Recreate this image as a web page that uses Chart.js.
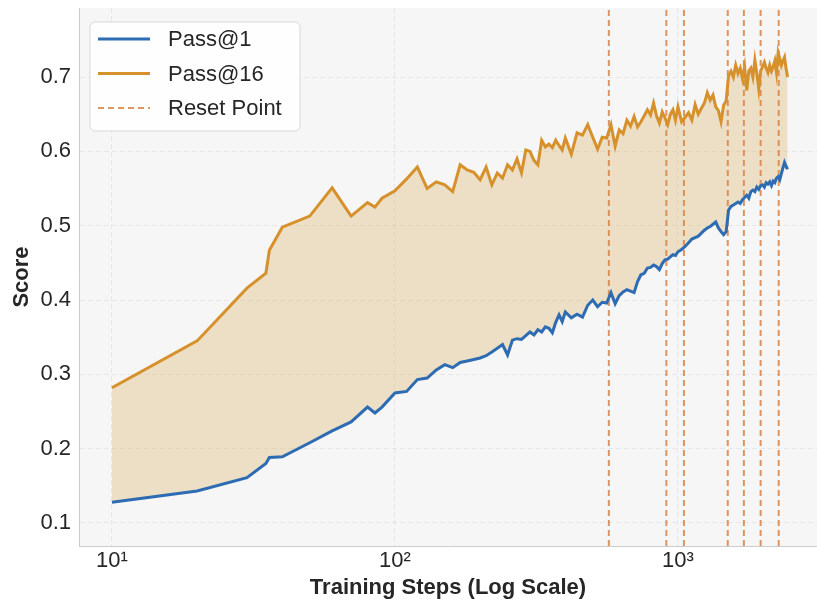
<!DOCTYPE html>
<html>
<head>
<meta charset="utf-8">
<script src="https://cdn.jsdelivr.net/npm/chart.js@4.4.1/dist/chart.umd.min.js"></script>
<style>
  html, body { margin: 0; padding: 0; background: #ffffff; overflow: hidden; }
  #wrap { width: 817px; height: 603px; }
</style>
</head>
<body>
<div id="wrap"><canvas id="scoreChart" width="817" height="603"></canvas></div>
<script>
// ---- data ----
const steps = [10, 20, 30, 35, 36, 40, 50, 60, 70, 80, 85, 90, 100, 110, 120, 130, 140, 150, 160, 170, 180, 190, 200,
  210, 220, 230, 240, 250, 260, 270, 280, 290, 300, 310, 320, 330, 340, 350, 360, 370, 380, 390, 400,
  420, 440, 460, 480, 500, 520, 540, 560, 580, 600, 620, 640, 660, 680, 700, 720, 740, 760, 780, 800,
  820, 840, 860, 880, 900, 920, 940, 960, 980, 1000,
  1030, 1060, 1090, 1120, 1150, 1180, 1210, 1240, 1270, 1300, 1330, 1360, 1390, 1420, 1450, 1480,
  1510, 1540, 1570, 1600, 1630, 1660, 1690, 1720, 1750, 1780, 1810, 1840, 1870, 1900, 1930, 1960,
  1990, 2020, 2050, 2080, 2110, 2140, 2170, 2200, 2230, 2260, 2290, 2320, 2350, 2380, 2410, 2440];

const pass16 = [0.282, 0.345, 0.416, 0.436, 0.467, 0.498, 0.513, 0.551, 0.513, 0.531, 0.525, 0.537, 0.547, 0.563, 0.579, 0.550, 0.559, 0.555, 0.546, 0.582, 0.575, 0.572, 0.562,
  0.579, 0.555, 0.571, 0.564, 0.582, 0.575, 0.590, 0.571, 0.602, 0.600, 0.588, 0.582, 0.615, 0.606, 0.610, 0.605, 0.615, 0.608, 0.602, 0.618,
  0.596, 0.625, 0.622, 0.636, 0.619, 0.603, 0.619, 0.618, 0.636, 0.607, 0.629, 0.624, 0.642, 0.634, 0.647, 0.633, 0.640, 0.648, 0.656, 0.649,
  0.665, 0.648, 0.638, 0.653, 0.645, 0.636, 0.650, 0.656, 0.642, 0.660,
  0.640, 0.646, 0.652, 0.642, 0.663, 0.650, 0.658, 0.665, 0.679, 0.669, 0.676, 0.660, 0.655, 0.640, 0.662, 0.668,
  0.702, 0.708, 0.700, 0.716, 0.705, 0.712, 0.698, 0.714, 0.682, 0.708, 0.712, 0.700, 0.723, 0.705, 0.684, 0.708,
  0.714, 0.720, 0.712, 0.706, 0.716, 0.708, 0.714, 0.722, 0.706, 0.733, 0.725, 0.716, 0.722, 0.727, 0.712, 0.700];

const pass1 = [0.128, 0.143, 0.161, 0.180, 0.188, 0.189, 0.208, 0.224, 0.236, 0.256, 0.248, 0.256, 0.275, 0.277, 0.293, 0.295, 0.306, 0.313, 0.309, 0.316, 0.318, 0.320, 0.322,
  0.325, 0.330, 0.335, 0.340, 0.326, 0.346, 0.348, 0.347, 0.352, 0.357, 0.353, 0.360, 0.357, 0.364, 0.362, 0.356, 0.370, 0.380, 0.371, 0.384,
  0.376, 0.381, 0.377, 0.393, 0.400, 0.391, 0.397, 0.396, 0.410, 0.395, 0.406, 0.411, 0.414, 0.412, 0.410, 0.425, 0.434, 0.436, 0.443, 0.444,
  0.447, 0.445, 0.441, 0.449, 0.454, 0.455, 0.458, 0.461, 0.460, 0.465,
  0.468, 0.472, 0.477, 0.482, 0.484, 0.486, 0.490, 0.494, 0.497, 0.499, 0.502, 0.505, 0.497, 0.492, 0.488, 0.492,
  0.521, 0.526, 0.528, 0.530, 0.532, 0.530, 0.535, 0.538, 0.541, 0.537, 0.546, 0.548, 0.546, 0.552, 0.549, 0.554,
  0.555, 0.552, 0.558, 0.556, 0.559, 0.554, 0.560, 0.558, 0.564, 0.566, 0.562, 0.570, 0.578, 0.585, 0.580, 0.576];

const resetSteps = [570, 910, 1050, 1500, 1710, 1960, 2270];

const xTicks = [10, 100, 1000];
const yTicks = [0.1, 0.2, 0.3, 0.4, 0.5, 0.6, 0.7];

// axis range (matplotlib-style margins)
const xMin = 7.65, xMax = 3100;
const yMin = 0.069, yMax = 0.793;

// ---- styles ----
const BLUE = '#2d6cb3';
const ORANGE = '#d6912c';
const RESET = 'rgba(214, 125, 60, 0.8)';
const FONT = "'Liberation Sans', Arial, sans-serif";
const TEXT = '#262626';

const sup = { 1: '\u00b9', 2: '\u00b2', 3: '\u00b3' };

function pairs(ys) {
  return steps.map((s, i) => ({ x: s, y: ys[i] }));
}

const datasets = [
  {
    label: 'Pass@1',
    data: pairs(pass1),
    borderColor: BLUE,
    borderWidth: 3,
    pointRadius: 0,
    fill: false,
    inLegend: true
  },
  {
    label: 'Pass@16',
    data: pairs(pass16),
    borderColor: ORANGE,
    borderWidth: 3,
    pointRadius: 0,
    fill: '-1',
    backgroundColor: 'rgba(222, 184, 110, 0.36)',
    inLegend: true
  }
];

resetSteps.forEach((s, i) => {
  datasets.push({
    label: 'Reset Point',
    data: [{ x: s, y: yMin }, { x: s, y: yMax }],
    borderColor: RESET,
    borderWidth: 2,
    borderDash: [6, 4],
    pointRadius: 0,
    fill: false,
    inLegend: i === 0
  });
});

// plot background
const plotBg = {
  id: 'plotBg',
  beforeDraw(chart) {
    const { ctx, chartArea: a } = chart;
    ctx.save();
    ctx.fillStyle = '#f6f6f6';
    ctx.fillRect(a.left, a.top, a.right - a.left, a.bottom - a.top);
    ctx.restore();
  }
};

// legend drawn inside the plot, top-left
const insideLegend = {
  id: 'insideLegend',
  afterDraw(chart) {
    const ctx = chart.ctx;
    const items = chart.data.datasets.filter(d => d.inLegend);
    const bx = 90, by = 22, bw = 210, bh = 109, r = 5;
    ctx.save();
    ctx.beginPath();
    ctx.roundRect(bx, by, bw, bh, r);
    ctx.fillStyle = 'rgba(255,255,255,0.85)';
    ctx.fill();
    ctx.strokeStyle = '#d9d9d9';
    ctx.lineWidth = 1;
    ctx.stroke();

    ctx.font = '22px ' + FONT;
    ctx.textBaseline = 'middle';
    ctx.fillStyle = TEXT;
    items.forEach((d, i) => {
      const y = 39 + i * 34.5;
      ctx.beginPath();
      ctx.setLineDash(d.borderDash || []);
      ctx.strokeStyle = d.borderColor;
      ctx.lineWidth = d.borderWidth;
      ctx.moveTo(98, y);
      ctx.lineTo(150, y);
      ctx.stroke();
      ctx.setLineDash([]);
      ctx.fillText(d.label, 168, y + 1);
    });
    ctx.restore();
  }
};

new Chart(document.getElementById('scoreChart').getContext('2d'), {
  type: 'line',
  data: { datasets: datasets },
  plugins: [plotBg, insideLegend],
  options: {
    responsive: false,
    animation: false,
    layout: { padding: { top: 8, right: 0, left: 0, bottom: 0 } },
    plugins: {
      legend: { display: false },
      tooltip: { enabled: false },
      filler: { drawTime: 'beforeDatasetsDraw' }
    },
    elements: { line: { tension: 0 } },
    scales: {
      x: {
        type: 'logarithmic',
        min: xMin,
        max: xMax,
        afterBuildTicks: scale => { scale.ticks = xTicks.map(v => ({ value: v })); },
        afterFit: scale => {
          scale.height = 57;
          scale.paddingLeft = 0;
          scale.paddingRight = 0;
        },
        ticks: {
          color: TEXT,
          font: { family: FONT, size: 22 },
          padding: 2,
          maxRotation: 0,
          callback: v => '10' + sup[Math.round(Math.log10(v))]
        },
        grid: { color: 'rgba(0,0,0,0.06)', lineWidth: 1, drawTicks: false },
        border: { display: true, color: '#cccccc', width: 1, dash: [5, 3] },
        title: {
          display: true,
          text: 'Training Steps (Log Scale)',
          color: TEXT,
          font: { family: FONT, size: 22, weight: 'bold' },
          padding: { top: 0, bottom: 2 }
        }
      },
      y: {
        type: 'linear',
        min: yMin,
        max: yMax,
        afterBuildTicks: scale => { scale.ticks = yTicks.map(v => ({ value: v })); },
        afterFit: scale => {
          scale.width = 79;
          scale.paddingTop = 0;
          scale.paddingBottom = 0;
        },
        ticks: {
          color: TEXT,
          font: { family: FONT, size: 22 },
          padding: 8,
          callback: v => v.toFixed(1)
        },
        grid: { color: 'rgba(0,0,0,0.06)', lineWidth: 1, drawTicks: false },
        border: { display: true, color: '#cccccc', width: 1, dash: [5, 3] },
        title: {
          display: true,
          text: 'Score',
          color: TEXT,
          font: { family: FONT, size: 22, weight: 'bold' },
          padding: { top: 9, bottom: 0 }
        }
      }
    }
  }
});
</script>
</body>
</html>
